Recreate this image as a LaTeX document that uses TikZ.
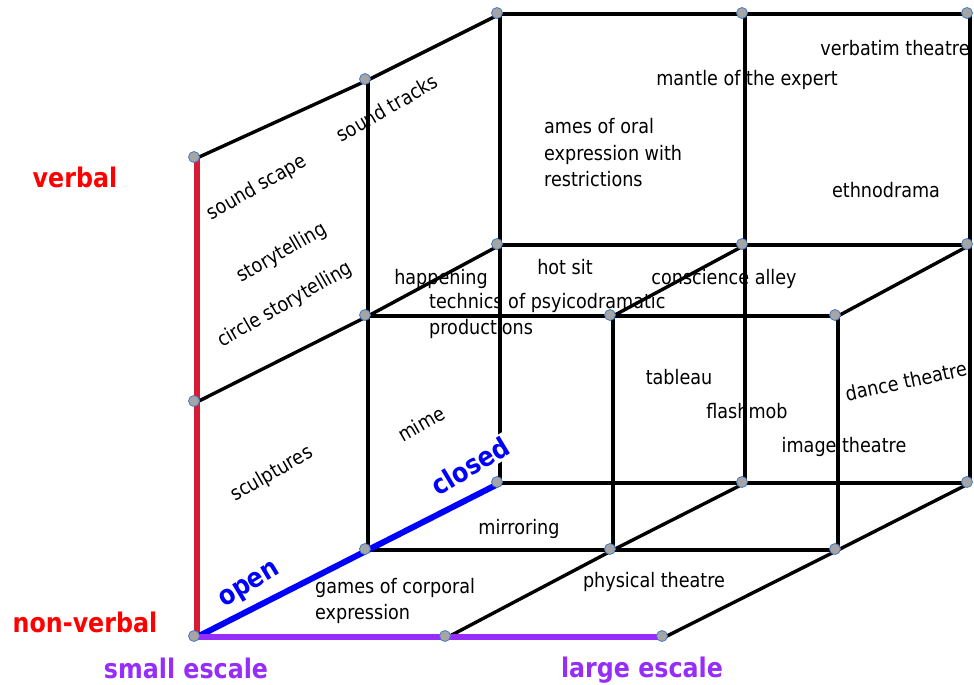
\documentclass[tikz,border=0pt]{standalone}
\usepackage{fontspec}
\setmainfont{DejaVu Sans}[FakeStretch=0.88]
\usetikzlibrary{positioning}
\definecolor{axisred}{RGB}{214,28,52}
\definecolor{labelred}{RGB}{255,0,0}
\definecolor{escale}{RGB}{150,45,250}
\definecolor{dotgray}{RGB}{165,165,165}
\definecolor{dotblue}{RGB}{70,120,200}

\begin{document}
\begin{tikzpicture}[x=1pt,y=-1pt,
  edge/.style={line width=3.4pt, line join=miter},
  axis/.style={line width=6pt},
  item/.style={font=\fontsize{20}{26.5}\selectfont, inner sep=1pt},
  tilted/.style={item, rotate=30},
  axislabel/.style={font=\fontsize{27}{30}\selectfont\bfseries, inner sep=0pt},
  pin/.style={circle, draw=dotblue, fill=dotgray, line width=0.8pt, minimum size=11pt, inner sep=0pt}]
\useasboundingbox (0,0) rectangle (974,685);

\coordinate (fT) at (197,158);
\coordinate (fM) at (197,402);
\coordinate (fB) at (197,637);
\coordinate (fB2) at (448,637);
\coordinate (fB3) at (665,637);
\coordinate (mT) at (368,80);
\coordinate (mM) at (368,316);
\coordinate (mB) at (368,550);
\coordinate (mM2) at (613,316);
\coordinate (mM3) at (838,316);
\coordinate (mB2) at (613,550);
\coordinate (mB3) at (838,550);
\coordinate (bT) at (500,14);
\coordinate (bM) at (500,245);
\coordinate (bB) at (500,483);
\coordinate (bT2) at (745,14);
\coordinate (bT3) at (970,14);
\coordinate (bM2) at (745,245);
\coordinate (bM3) at (970,245);
\coordinate (bB2) at (745,483);
\coordinate (bB3) at (970,483);

\draw [edge](fT)--(mT)--(bT);
\draw [edge](fM)--(mM)--(bM);
\draw [edge](mT)--(mB);
\draw [edge](mM)--(mM3);
\draw [edge](mB)--(mB3);
\draw [edge](mM2)--(mB2);
\draw [edge](mM3)--(mB3);
\draw [edge](bT)--(bT3);
\draw [edge](bM)--(bM3);
\draw [edge](bB)--(bB3);
\draw [edge](bT)--(bB);
\draw [edge](bT2)--(bB2);
\draw [edge](bT3)--(bB3);
\draw [edge](fB2)--(mB2)--(bB2);
\draw [edge](fB3)--(mB3)--(bB3);
\draw [edge](mM2)--(bM2);
\draw [edge](mM3)--(bM3);

\node (closed) [axislabel, rotate=31, text=blue, fill=white, inner sep=2pt] at (470,466) {closed};
\node (open) [axislabel, rotate=31, text=blue] at (250,586) {open};

\draw [axis, axisred](fT)--(fB);
\draw [axis, blue](fB)--(mB)--(bB);
\draw [axis, escale](fB)--(fB3);

\foreach \p in {fT,fM,fB,fB2,fB3,mT,mM,mB,mM2,mM3,mB2,mB3,bT,bM,bB,bT2,bT3,bM2,bM3,bB2,bB3}
  \node (pin-\p) [pin] at ([shift={(-3,-1)}]\p) {};

\node (verbal) [axislabel, text=labelred] at (75,177) {verbal};
\node (nonverbal) [axislabel, text=labelred] at (85,622) {non-verbal};
\node (small) [axislabel, text=escale] at (186,668) {small escale};
\node (large) [axislabel, text=escale] at (642,670) {large escale};

\node (scape) [tilted] at (257,188) {sound scape};
\node (tracks) [tilted] at (387,108) {sound tracks};
\node (story) [tilted] at (282,253) {storytelling};
\node (circle) [tilted] at (285,305) {circle storytelling};
\node (sculpt) [tilted] at (272,474) {sculptures};
\node (mime) [tilted] at (421,424) {mime};
\node (dance) [item, rotate=12] at (906,381) {dance theatre};

\node (happening) [item] at (441,279) {happening};
\node (technics) [item, anchor=west, align=left] at (428,316) {technics of psyicodramatic\\productions};
\node (hotsit) [item] at (565,267) {hot sit};
\node (alley) [item] at (724,279) {conscience alley};
\node (oral) [item, anchor=west, align=left] at (543,153) {ames of oral\\expression with\\restrictions};
\node (mantle) [item] at (747,80) {mantle of the expert};
\node (verbatim) [item] at (895,48) {verbatim theatre};
\node (ethno) [item] at (886,190) {ethnodrama};
\node (tableau) [item] at (679,377) {tableau};
\node (flashmob) [item] at (747,411) {flashmob};
\node (image) [item] at (844,447) {image theatre};
\node (mirror) [item] at (519,529) {mirroring};
\node (corporal) [item, anchor=west, align=left] at (314,601) {games of corporal\\expression};
\node (physical) [item] at (654,582) {physical theatre};
\end{tikzpicture}
\end{document}
